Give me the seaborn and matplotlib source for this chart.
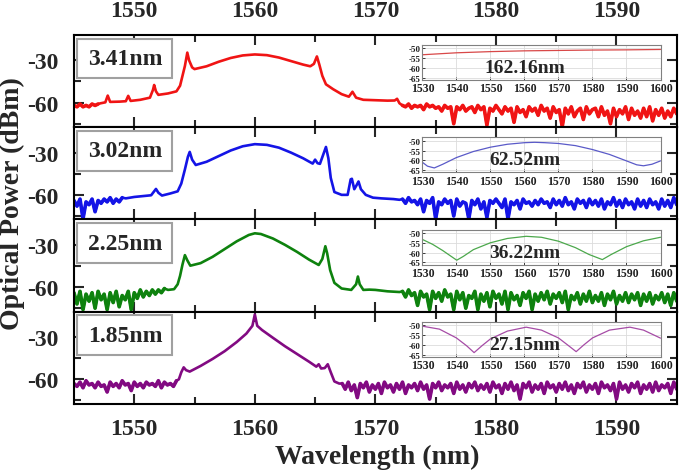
import numpy as np
import pandas as pd
import matplotlib.pyplot as plt
import seaborn as sns
from matplotlib.patches import Rectangle

# ---- main spectra: noisy floor (0.25 nm grid) + hand read signal points ----
step = 0.25

red_left_start = 1545.0
red_left = [-62, -63, -61, -63, -62, -63, -61, -62, -61]
red_wl = [1547.2, 1547.6, 1547.8, 1548.0, 1548.8, 1549.3, 1549.5, 1549.7, 1550.5, 1551.3,
          1551.55, 1551.65, 1551.8, 1552.0, 1552.8, 1553.5, 1553.8, 1554.0, 1554.2, 1554.4,
          1554.55, 1554.8, 1555.0, 1556.0, 1557.0, 1558.0, 1559.0, 1560.0, 1561.0, 1562.0,
          1563.0, 1564.0, 1564.6, 1564.9, 1565.15, 1565.35, 1565.6, 1565.9, 1566.5, 1567.2,
          1567.8, 1568.1, 1568.4, 1569.0, 1570.0, 1571.0, 1571.6, 1571.8, 1572.0]
red_db = [-60.5, -59.8, -55.0, -59.5, -59.3, -59.0, -55.2, -58.8, -58.0, -56.5,
          -51.0, -47.5, -52.0, -54.5, -53.5, -52.0, -48.0, -41.0, -34.0, -24.5,
          -30.0, -35.0, -36.2, -34.2, -31.0, -28.3, -26.5, -25.8, -26.3, -28.0,
          -30.5, -33.0, -34.2, -32.5, -27.2, -33.0, -41.0, -47.0, -50.5, -54.0,
          -55.8, -52.3, -56.5, -58.0, -58.3, -58.6, -58.5, -57.3, -60.5]
red_right_start = 1572.25
red_right = [-62, -63, -61, -64, -62, -63, -62, -65, -61, -63, -62, -64, -63, -66, -62, -64,
             -63, -75, -63, -65, -62, -66, -64, -63, -67, -62, -65, -63, -76, -64, -66, -62,
             -65, -68, -63, -66, -64, -74, -63, -67, -65, -70, -63, -66, -64, -69, -62, -66,
             -64, -71, -63, -67, -65, -77, -64, -68, -63, -70, -66, -64, -72, -63, -68, -65,
             -64, -70, -63, -69, -66, -75, -64, -70, -65, -68, -63, -72, -64, -69, -66, -71,
             -64, -70, -63, -73, -65, -69, -64, -71, -66, -70, -64, -68]

blue_left_start = 1545.0
blue_left = [-64, -68, -63, -77, -65, -67, -63, -72, -64, -66, -63, -65, -62, -66, -63, -65, -62]
blue_wl = [1549.3, 1550.0, 1550.8, 1551.4, 1551.65, 1551.8, 1552.0, 1552.3, 1553.0, 1553.6,
           1553.9, 1554.2, 1554.45, 1554.6, 1554.8, 1555.1, 1556.0, 1557.0, 1558.0, 1559.0,
           1560.0, 1561.0, 1562.0, 1563.0, 1564.0, 1564.8, 1565.0, 1565.2, 1565.4, 1565.65,
           1565.9, 1566.1, 1566.3, 1566.6, 1567.2, 1567.7, 1567.95, 1568.05, 1568.25, 1568.45,
           1568.6, 1568.8, 1569.2, 1569.8, 1570.5, 1571.5, 1572.0]
blue_db = [-62.5, -61.5, -60.8, -60.3, -57.5, -55.8, -58.5, -60.5, -59.0, -57.5,
           -52.0, -42.0, -33.0, -29.5, -35.0, -38.8, -36.5, -32.5, -28.5, -25.5,
           -24.0, -24.5, -26.5, -30.0, -34.0, -37.8, -35.0, -37.5, -38.0, -32.0,
           -26.0, -34.0, -48.0, -58.0, -60.0, -60.0, -49.0, -48.6, -56.0, -53.0,
           -50.5, -56.0, -60.0, -62.0, -62.5, -63.0, -63.5]
blue_right_start = 1572.25
blue_right = [-63, -66, -62, -65, -64, -67, -63, -72, -64, -66, -62, -77, -65, -67, -63, -66,
              -64, -75, -63, -68, -65, -66, -77, -64, -67, -63, -70, -65, -76, -64, -66, -63,
              -66, -69, -63, -77, -65, -67, -64, -70, -63, -66, -65, -68, -64, -67, -63, -66,
              -65, -69, -63, -67, -64, -68, -62, -67, -65, -70, -63, -66, -64, -69, -63, -67,
              -64, -68, -63, -70, -65, -67, -62, -68, -64, -69, -63, -67, -65, -70, -63, -68,
              -64, -69, -63, -67, -65, -70, -63, -68, -64, -69, -62, -67]

green_left_start = 1545.0
green_left = [-64, -72, -63, -76, -65, -70, -64, -75, -63, -69, -65, -76, -64, -71, -63, -74,
              -66, -69, -63, -76, -64, -68, -62, -67, -63, -66, -62, -65, -62, -64, -61]
green_wl = [1552.8, 1553.3, 1553.6, 1553.8, 1554.0, 1554.2, 1554.4, 1554.65, 1555.5, 1556.5,
            1557.5, 1558.5, 1559.5, 1560.0, 1560.5, 1561.5, 1562.5, 1563.5, 1564.5, 1565.3,
            1565.6, 1565.85, 1566.0, 1566.25, 1566.6, 1567.2, 1568.0, 1568.4, 1568.55, 1568.7,
            1569.0, 1569.5, 1570.0, 1571.0, 1572.0]
green_db = [-62.0, -61.5, -58.0, -52.0, -44.0, -37.3, -41.0, -44.8, -43.0, -38.5,
            -33.0, -27.5, -23.0, -21.8, -22.3, -25.5, -30.0, -35.0, -40.5, -44.3,
            -40.0, -31.0, -36.0, -48.0, -57.0, -61.0, -62.0, -58.0, -52.5, -58.0,
            -62.0, -61.8, -62.0, -63.0, -63.5]
green_right_start = 1572.25
green_right = [-63, -67, -62, -66, -64, -73, -63, -67, -65, -76, -63, -68, -64, -70, -62, -67,
               -65, -76, -63, -69, -64, -75, -66, -68, -63, -76, -65, -70, -64, -74, -63, -68,
               -65, -72, -63, -76, -64, -69, -66, -73, -64, -68, -63, -76, -65, -70, -64, -69,
               -63, -72, -65, -68, -64, -71, -63, -76, -66, -69, -64, -72, -65, -70, -63, -71,
               -66, -70, -64, -73, -65, -69, -63, -72, -66, -70, -64, -71, -65, -69, -64, -73,
               -65, -70, -64, -72, -66, -69, -64, -71, -65, -73, -64, -70]

purple_left_start = 1545.0
purple_left = [-63, -65, -62, -66, -61, -64, -63, -66, -62, -65, -64, -69, -62, -65, -63, -66,
               -61, -64, -63, -68, -62, -65, -63, -66, -62, -64, -63, -65, -61, -66, -62, -64,
               -63, -65, -61]
purple_wl = [1553.7, 1553.9, 1554.1, 1554.3, 1554.6, 1555.5, 1556.5, 1557.5, 1558.5, 1559.3,
             1559.8, 1560.0, 1560.2, 1560.6, 1561.5, 1562.5, 1563.5, 1564.5, 1565.1, 1565.3,
             1565.5, 1565.8, 1566.05, 1566.3, 1566.6, 1567.0]
purple_db = [-60.0, -55.0, -51.5, -53.5, -54.5, -50.5, -45.5, -40.0, -33.5, -27.5,
             -22.0, -14.0, -22.0, -25.0, -30.5, -36.5, -42.0, -47.5, -51.0, -49.3,
             -52.3, -52.0, -49.3, -55.0, -61.5, -63.0]
purple_right_start = 1567.25
purple_right = [-63, -67, -62, -68, -64, -73, -63, -66, -62, -69, -64, -67, -63, -70, -62, -66,
                -64, -69, -63, -67, -62, -70, -64, -66, -63, -68, -62, -67, -64, -74, -63, -66,
                -62, -68, -64, -66, -63, -70, -62, -67, -64, -69, -63, -66, -62, -68, -64, -67,
                -63, -69, -62, -66, -64, -70, -63, -67, -62, -68, -64, -74, -63, -66, -62, -69,
                -64, -67, -63, -70, -62, -66, -64, -69, -63, -67, -62, -68, -64, -70, -63, -66,
                -62, -69, -64, -67, -63, -70, -62, -66, -64, -68, -63, -74, -62, -67, -64, -69,
                -63, -66, -62, -70, -64, -67, -63, -69, -62, -68, -64, -66, -63, -70, -62, -67]

width_labels = ["3.41nm", "3.02nm", "2.25nm", "1.85nm"]

# ---- inset spectra ----
inset_red_wl = [1530, 1540, 1550, 1560, 1570, 1580, 1590, 1600]
inset_red_db = [-53.2, -52.2, -51.6, -51.2, -51.0, -50.8, -50.7, -50.5]
inset_blue_wl = [1530, 1531.5, 1533.5, 1536, 1540, 1545, 1550, 1555, 1560, 1563,
                 1566, 1570, 1575, 1580, 1585, 1590, 1593, 1595, 1597.5, 1600]
inset_blue_db = [-61.0, -63.0, -63.9, -62.0, -58.6, -55.5, -53.3, -51.8, -51.0, -50.8,
                 -51.0, -51.4, -52.5, -54.5, -57.0, -60.3, -62.3, -62.8, -62.0, -60.3]
inset_green_wl = [1530, 1533, 1536, 1538.5, 1540.1, 1542, 1545, 1550, 1555, 1560.5,
                  1565, 1570, 1575, 1579, 1582.9, 1585.5, 1590, 1595, 1600]
inset_green_db = [-53.3, -55.8, -59.0, -62.0, -63.9, -62.0, -58.5, -55.0, -52.8, -51.7,
                  -52.2, -54.2, -57.5, -61.0, -63.6, -61.0, -57.0, -54.0, -52.2]
inset_purple_wl = [1530, 1535, 1540, 1543, 1545.2, 1547.5, 1550, 1555, 1560.5, 1565,
                   1570, 1573, 1575.2, 1577.5, 1580, 1585, 1591, 1595, 1600]
inset_purple_db = [-50.5, -52.0, -56.5, -60.5, -64.0, -60.5, -57.0, -53.0, -51.0, -52.5,
                   -56.5, -60.5, -63.5, -60.0, -56.5, -52.5, -51.0, -52.5, -56.6]
inset_labels = ["162.16nm", "62.52nm", "36.22nm", "27.15nm"]


def floor(start, vals):
    return pd.DataFrame({"wl": start + step * np.arange(len(vals)), "db": vals})


def spectrum(left_start, left, wl, db, right_start, right):
    parts = [floor(left_start, left), pd.DataFrame({"wl": wl, "db": db}), floor(right_start, right)]
    return pd.concat(parts, ignore_index=True), parts[0], parts[2]


panels = [
    (spectrum(red_left_start, red_left, red_wl, red_db, red_right_start, red_right),
     "#f01414", inset_red_wl, inset_red_db, "#d84848"),
    (spectrum(blue_left_start, blue_left, blue_wl, blue_db, blue_right_start, blue_right),
     "#1414e6", inset_blue_wl, inset_blue_db, "#5a5ac8"),
    (spectrum(green_left_start, green_left, green_wl, green_db, green_right_start, green_right),
     "#0e820e", inset_green_wl, inset_green_db, "#4ca84c"),
    (spectrum(purple_left_start, purple_left, purple_wl, purple_db, purple_right_start, purple_right),
     "#820a82", inset_purple_wl, inset_purple_db, "#a64ca6"),
]

sns.set_style("ticks")
plt.rcParams['font.family'] = ['Liberation Serif', 'DejaVu Serif']
plt.rcParams['font.weight'] = 'bold'
plt.rcParams['axes.unicode_minus'] = False

fig, axes = plt.subplots(4, 1, sharex=True, figsize=(6.85, 4.77), dpi=100)
plt.subplots_adjust(left=0.108, right=0.988, top=0.9245, bottom=0.151, hspace=0)

for i, (ax, ((df, lf, rf), col, iwl, idb, icol)) in enumerate(zip(axes, panels)):
    sns.lineplot(data=df, x="wl", y="db", ax=ax, color=col, linewidth=1.9,
                 estimator=None, sort=False)
    # the noisy floor is drawn a bit heavier so it reads as a dense band
    for part in (lf, rf):
        sns.lineplot(data=part, x="wl", y="db", ax=ax, color=col, linewidth=2.6,
                     estimator=None, sort=False)
    ax.set_xlim(1545, 1595)
    ax.set_ylim(-77.5, -12)
    ax.set_xticks([1550, 1560, 1570, 1580, 1590])
    ax.set_xticks([1555, 1565, 1575, 1585], minor=True)
    ax.set_yticks([-30, -60])
    ax.set_yticks([-45, -75], minor=True)
    ax.set_xlabel("")
    ax.set_ylabel("")
    ax.tick_params(which="both", direction="in", top=True, right=True, width=1.5,
                   labelsize=17, labelbottom=(i == 3), labeltop=(i == 0))
    ax.tick_params(axis="x", which="major", pad=10)
    ax.tick_params(axis="y", which="major", pad=11)
    ax.tick_params(which="major", length=7)
    ax.tick_params(which="minor", length=5)
    for s in ax.spines.values():
        s.set_linewidth(1.5)
        s.set_color("black")

    # linewidth label box
    ax.add_patch(Rectangle((0.005, 0.53), 0.158, 0.43, transform=ax.transAxes,
                           facecolor="white", edgecolor="#a0a0a0", linewidth=1.5, zorder=5))
    ax.text(0.085, 0.745, width_labels[i], transform=ax.transAxes, ha="center", va="center",
            fontsize=17, fontweight="bold", zorder=6)

    # inset with the broad spectrum
    ins = ax.inset_axes([0.578, 0.51, 0.395, 0.38])
    sns.lineplot(x=iwl, y=idb, ax=ins, color=icol, linewidth=0.9, estimator=None)
    ins.set_xlim(1530, 1600)
    ins.set_ylim(-66.2, -48.3)
    ins.set_xticks(np.arange(1530, 1601, 10))
    ins.set_yticks([-50, -55, -60, -65])
    ins.grid(True, color="#dcdcdc", linewidth=0.6)
    ins.tick_params(direction="in", length=2, width=0.6, pad=1.5, colors="#202020")
    ins.tick_params(axis="x", labelsize=8.5)
    ins.tick_params(axis="y", labelsize=6.5, pad=1)
    for s in ins.spines.values():
        s.set_linewidth(0.8)
        s.set_color("#808080")
    ins.text(0.43, 0.36, inset_labels[i], transform=ins.transAxes, ha="center", va="center",
             fontsize=14, fontweight="bold")

fig.text(0.018, 0.573, "Optical Power (dBm)", rotation=90, ha="center", va="center",
         fontsize=20, fontweight="bold")
fig.text(0.55, 0.04, "Wavelength (nm)", ha="center", va="center",
         fontsize=20, fontweight="bold")

fig.savefig("out.png", dpi=100)
